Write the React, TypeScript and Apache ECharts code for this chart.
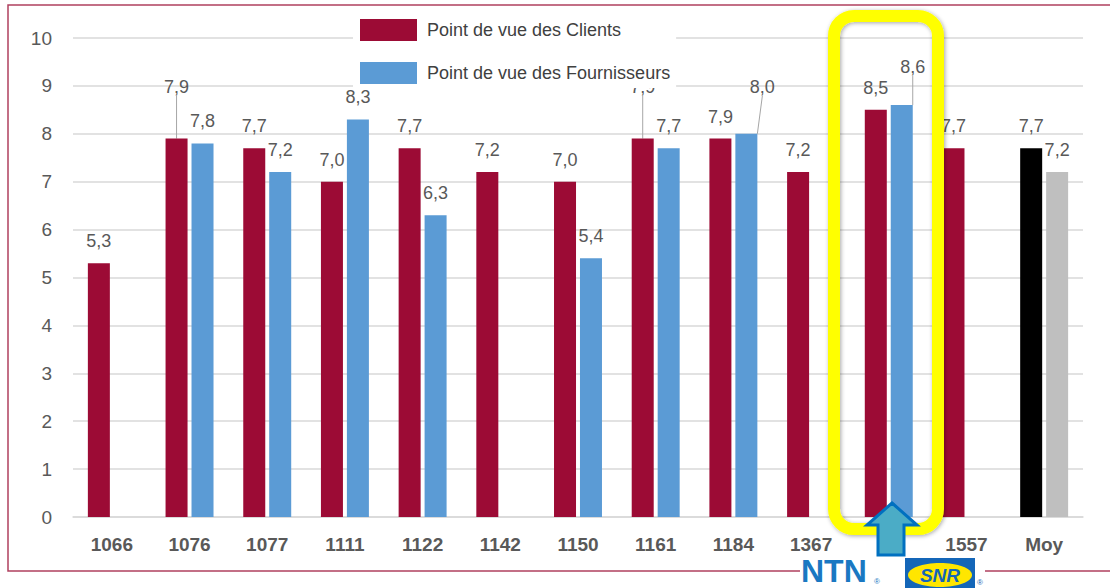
import React, { useEffect, useRef } from "react";
import * as echarts from "echarts";

const categories = ["1066", "1076", "1077", "1111", "1122", "1142", "1150", "1161", "1184", "1367", "NTN-SNR", "1557", "Moy"];
const clients = [5.3, 7.9, 7.7, 7.0, 7.7, 7.2, 7.0, 7.9, 7.9, 7.2, 8.5, 7.7, 7.7];
const fournisseurs = [null, 7.8, 7.2, 8.3, 6.3, null, 5.4, 7.7, 8.0, null, 8.6, null, 7.2];
const yTicks = { min: 0, max: 10, interval: 1 };
const seriesNames = ["Point de vue des Clients", "Point de vue des Fournisseurs"];

const RED = "#9c0b35";
const BLUE = "#5b9bd5";
const MOY_CLIENT = "#000000";
const MOY_FOURN = "#bfbfbf";

// label offsets (leader lines) keyed by series index / data index
const labelShifts: Record<string, { dx: number; dy: number }> = {
  "0-1": { dx: 0, dy: -30 },
  "0-7": { dx: 0, dy: -30 },
  "1-8": { dx: 16, dy: -25 },
  "1-10": { dx: 11, dy: -16 },
};

const fmt = (v: number) => v.toFixed(1).replace(".", ",");

export default function App() {
  const ref = useRef<HTMLDivElement>(null);
  useEffect(() => {
    document.body.style.margin = "0";
    const chart = echarts.init(ref.current!, null, { renderer: "svg" });
    const moyIdx = categories.indexOf("Moy");
    const labelCommon = {
      show: true,
      position: "top",
      distance: 13,
      fontSize: 18,
      color: "#595959",
      fontFamily: "Liberation Sans",
      formatter: (p: any) => (p.value == null ? "" : fmt(Number(p.value))),
    };
    const layoutFn = (p: any) => {
      const s = labelShifts[p.seriesIndex + "-" + p.dataIndex];
      return s ? { dx: s.dx, dy: s.dy } : {};
    };
    const makeData = (vals: (number | null)[], sIdx: number, moyColor: string) =>
      vals.map((v, i) => {
        const item: any = { value: v };
        if (i === moyIdx) item.itemStyle = { color: moyColor };
        item.labelLine = { show: !!labelShifts[sIdx + "-" + i] };
        return item;
      });
    const labelLine = { show: false, lineStyle: { color: "#a6a6a6", width: 1 } };

    chart.setOption({
      animation: false,
      textStyle: { fontFamily: "Liberation Sans" },
      grid: { left: 73, right: 27, top: 38, bottom: 71 },
      legend: {
        orient: "vertical",
        left: 353,
        top: 8,
        padding: [11, 6, 4, 7],
        itemWidth: 57,
        itemHeight: 22,
        itemGap: 21,
        icon: "rect",
        backgroundColor: "#ffffff",
        z: 10,
        textStyle: { fontSize: 18, color: "#404040", fontFamily: "Liberation Sans", padding: [0, 0, 0, 5] },
        data: seriesNames,
      },
      xAxis: {
        type: "category",
        data: categories,
        axisLine: { show: true, lineStyle: { color: "#d9d9d9", width: 1.5 } },
        axisTick: { show: false },
        axisLabel: {
          margin: 18,
          fontSize: 19,
          fontWeight: "bold",
          color: "#595959",
          fontFamily: "Liberation Sans",
          formatter: (v: string) => (v === "NTN-SNR" ? "" : v),
        },
      },
      yAxis: {
        type: "value",
        min: yTicks.min,
        max: yTicks.max,
        interval: yTicks.interval,
        axisLine: { show: false },
        axisTick: { show: false },
        splitLine: { lineStyle: { color: "#d9d9d9", width: 1.5 } },
        axisLabel: { margin: 21, fontSize: 19, color: "#595959", fontFamily: "Liberation Sans" },
      },
      series: [
        {
          name: seriesNames[0],
          type: "bar",
          barWidth: 22,
          barGap: "18%",
          itemStyle: { color: RED },
          data: makeData(clients, 0, MOY_CLIENT),
          label: labelCommon,
          labelLayout: layoutFn,
          labelLine,
        },
        {
          name: seriesNames[1],
          type: "bar",
          barWidth: 22,
          barGap: "18%",
          itemStyle: { color: BLUE },
          data: makeData(fournisseurs, 1, MOY_FOURN),
          label: labelCommon,
          labelLayout: layoutFn,
          labelLine,
        },
      ],
      graphic: [
        {
          type: "rect",
          z: 1,
          silent: true,
          shape: { x: 8, y: 5, width: 1115, height: 566 },
          style: { fill: "none", stroke: "#b0405f", lineWidth: 1.5 },
        },
        {
          type: "rect",
          z: 100,
          silent: true,
          shape: { x: 834, y: 16, width: 104, height: 513, r: 20 },
          style: {
            fill: "none",
            stroke: "#ffff00",
            lineWidth: 12,
            shadowBlur: 4,
            shadowColor: "rgba(0,0,0,0.35)",
            shadowOffsetX: 1,
            shadowOffsetY: 1,
          },
        },
        {
          type: "polygon",
          z: 101,
          silent: true,
          shape: {
            points: [
              [892, 503],
              [917, 525],
              [904, 525],
              [904, 555],
              [878, 555],
              [878, 525],
              [867, 525],
            ],
          },
          style: { fill: "#4bacc6", stroke: "#0070c0", lineWidth: 3 },
        },
        {
          type: "rect",
          z: 101,
          silent: true,
          shape: { x: 800, y: 558, width: 185, height: 30 },
          style: { fill: "#ffffff" },
        },
        {
          type: "text",
          z: 102,
          silent: true,
          x: 801,
          y: 571,
          style: {
            text: "NTN",
            fontSize: 32,
            fontWeight: "bold",
            fontFamily: "Liberation Sans",
            fill: "#1a78c2",
            verticalAlign: "middle",
            align: "left",
          },
        },
        {
          type: "text",
          z: 102,
          silent: true,
          x: 874,
          y: 581,
          style: { text: "®", fontSize: 8, fill: "#1a78c2", verticalAlign: "middle" },
        },
        {
          type: "rect",
          z: 102,
          silent: true,
          shape: { x: 905, y: 558, width: 70, height: 36 },
          style: { fill: "#1466b8" },
        },
        {
          type: "ellipse",
          z: 103,
          silent: true,
          shape: { cx: 940, cy: 575, rx: 32, ry: 12 },
          style: { fill: "#ffe600" },
        },
        {
          type: "text",
          z: 104,
          silent: true,
          x: 940,
          y: 575,
          style: {
            text: "SNR",
            fontSize: 19,
            fontWeight: "bold",
            fontStyle: "italic",
            fontFamily: "Liberation Sans",
            fill: "#1466b8",
            align: "center",
            verticalAlign: "middle",
          },
        },
        {
          type: "text",
          z: 102,
          silent: true,
          x: 977,
          y: 582,
          style: { text: "®", fontSize: 8, fill: "#1466b8", verticalAlign: "middle" },
        },
      ],
    });
    return () => chart.dispose();
  }, []);
  return <div ref={ref} style={{ width: 1110, height: 588 }} />;
}
